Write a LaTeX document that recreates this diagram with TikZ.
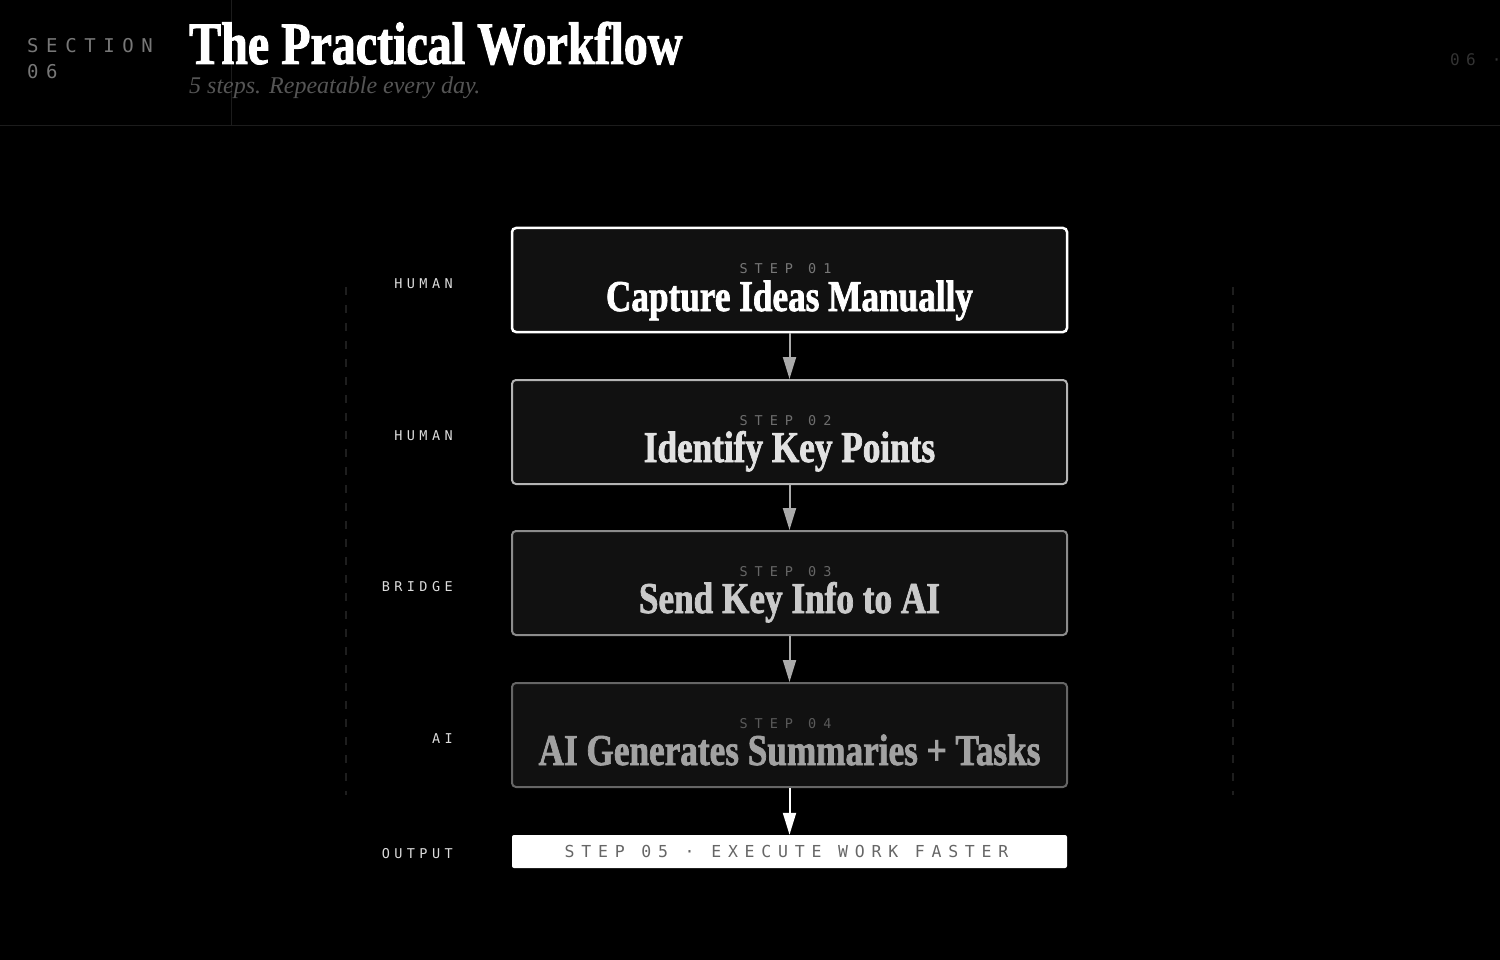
\documentclass[tikz,border=0pt]{standalone}
\usepackage{fontspec}
\usepackage{tikz}
\usetikzlibrary{arrows.meta}

\newfontfamily\displayfont[FakeStretch=0.8,FakeBold=1.6]{Liberation Serif}
\newfontfamily\subfont{Liberation Serif}
\newfontfamily\monofont{DejaVu Sans Mono}

\definecolor{boxfill}{HTML}{111111}
\definecolor{rulegray}{HTML}{1C1C1C}
\definecolor{lanegray}{HTML}{1E1E1E}
\definecolor{lanetext}{HTML}{DCDCDC}
\definecolor{tagone}{HTML}{777777}
\definecolor{tagtwo}{HTML}{6E6E6E}
\definecolor{tagthree}{HTML}{666666}
\definecolor{tagfour}{HTML}{5A5A5A}
\definecolor{subgray}{HTML}{555555}
\definecolor{numgray}{HTML}{333333}
\definecolor{lineone}{HTML}{FFFFFF}
\definecolor{linetwo}{HTML}{B4B4B4}
\definecolor{linethree}{HTML}{8C8C8C}
\definecolor{linefour}{HTML}{666666}
\definecolor{titletwo}{HTML}{E2E2E2}
\definecolor{titlethree}{HTML}{CACACA}
\definecolor{titlefour}{HTML}{A2A2A2}
\definecolor{arrowgray}{HTML}{AAAAAA}

\begin{document}
\begin{tikzpicture}[x=1pt,y=-1pt,
    stepbox/.style={draw, line width=2pt, rounded corners=4pt, fill=boxfill,
        minimum width=555pt, minimum height=104pt, inner sep=0pt},
    steptag/.style={anchor=base, inner sep=0pt,
        font=\monofont\fontsize{13.5}{16}\selectfont\addfontfeatures{LetterSpace=52}},
    steptitle/.style={anchor=base, inner sep=0pt,
        font=\displayfont\bfseries\fontsize{44}{48}\selectfont},
    lanelabel/.style={anchor=base east, inner sep=0pt, text=lanetext,
        font=\monofont\fontsize{13.5}{16}\selectfont\addfontfeatures{LetterSpace=33}},
    flowarrow/.style={line width=2pt, -{Triangle[width=13pt,length=22pt]}}]

    % page and header
    \fill[black] (0,0) rectangle (1500,960);
    \useasboundingbox (0,0) rectangle (1500,960);
    \draw[rulegray, line width=1pt] (0,126) -- (1500,126);
    \draw[rulegray, line width=1pt] (231,0) -- (231,126);
    \node[anchor=base west, inner sep=0pt, text=tagone,
        font=\monofont\fontsize{19}{22}\selectfont\addfontfeatures{LetterSpace=40}] (sec) at (27,53) {SECTION};
    \node[anchor=base west, inner sep=0pt, text=tagone,
        font=\monofont\fontsize{19}{22}\selectfont\addfontfeatures{LetterSpace=40}] (secnum) at (27,79) {06};
    \node[anchor=base west, inner sep=0pt, text=white,
        font=\displayfont\bfseries\fontsize{60}{64}\selectfont] (title) at (189,64) {The Practical Workflow};
    \node[anchor=base west, inner sep=0pt, text=subgray,
        font=\subfont\itshape\fontsize{24}{28}\selectfont] (subtitle) at (189,94) {5 steps. Repeatable every day.};
    \node[anchor=base west, inner sep=0pt, text=numgray,
        font=\monofont\fontsize{16}{19}\selectfont\addfontfeatures{LetterSpace=40}] (pagenum) at (1450,66) {06 ·};

    % lane guides
    \draw[lanegray, line width=1.5pt, dash pattern=on 8pt off 10pt] (346,287) -- (346,795);
    \draw[lanegray, line width=1.5pt, dash pattern=on 8pt off 10pt] (1233,287) -- (1233,795);

    % steps
    \node[stepbox, draw=lineone, line width=2.5pt] (b1) at (789.5,280) {};
    \node[stepbox, draw=linetwo] (b2) at (789.5,432) {};
    \node[stepbox, draw=linethree] (b3) at (789.5,583) {};
    \node[stepbox, draw=linefour] (b4) at (789.5,735) {};

    \node[steptag, text=tagone] (t1) at ([xshift=-4pt,yshift=7pt]b1.center) {STEP 01};
    \node[steptag, text=tagtwo] (t2) at ([xshift=-4pt,yshift=7pt]b2.center) {STEP 02};
    \node[steptag, text=tagthree] (t3) at ([xshift=-4pt,yshift=7pt]b3.center) {STEP 03};
    \node[steptag, text=tagfour] (t4) at ([xshift=-4pt,yshift=7pt]b4.center) {STEP 04};

    \node[steptitle, text=white] (n1) at ([yshift=-31pt]b1.center) {Capture Ideas Manually};
    \node[steptitle, text=titletwo] (n2) at ([yshift=-30pt]b2.center) {Identify Key Points};
    \node[steptitle, text=titlethree] (n3) at ([yshift=-30pt]b3.center) {Send Key Info to AI};
    \node[steptitle, text=titlefour] (n4) at ([yshift=-30pt]b4.center) {AI Generates Summaries + Tasks};

    \node[fill=white, rounded corners=2pt, minimum width=555pt, minimum height=33pt, inner sep=0pt,
        text=tagthree, font=\monofont\fontsize{16.5}{19}\selectfont\addfontfeatures{LetterSpace=41}]
        (out) at (789.5,851.5) {STEP 05 · EXECUTE WORK FASTER\hspace*{6pt}};

    % lanes
    \node[lanelabel] (l1) at (453,288) {HUMAN};
    \node[lanelabel] (l2) at (453,440) {HUMAN};
    \node[lanelabel] (l3) at (453,591) {BRIDGE};
    \node[lanelabel] (l4) at (453,743) {AI};
    \node[lanelabel] (l5) at (453,858) {OUTPUT};

    % arrows
    \draw[flowarrow, arrowgray] (b1.south) -- (b2.north);
    \draw[flowarrow, arrowgray] (b2.south) -- (b3.north);
    \draw[flowarrow, arrowgray] (b3.south) -- (b4.north);
    \draw[flowarrow, white] (b4.south) -- (out.north);

\end{tikzpicture}
\end{document}
